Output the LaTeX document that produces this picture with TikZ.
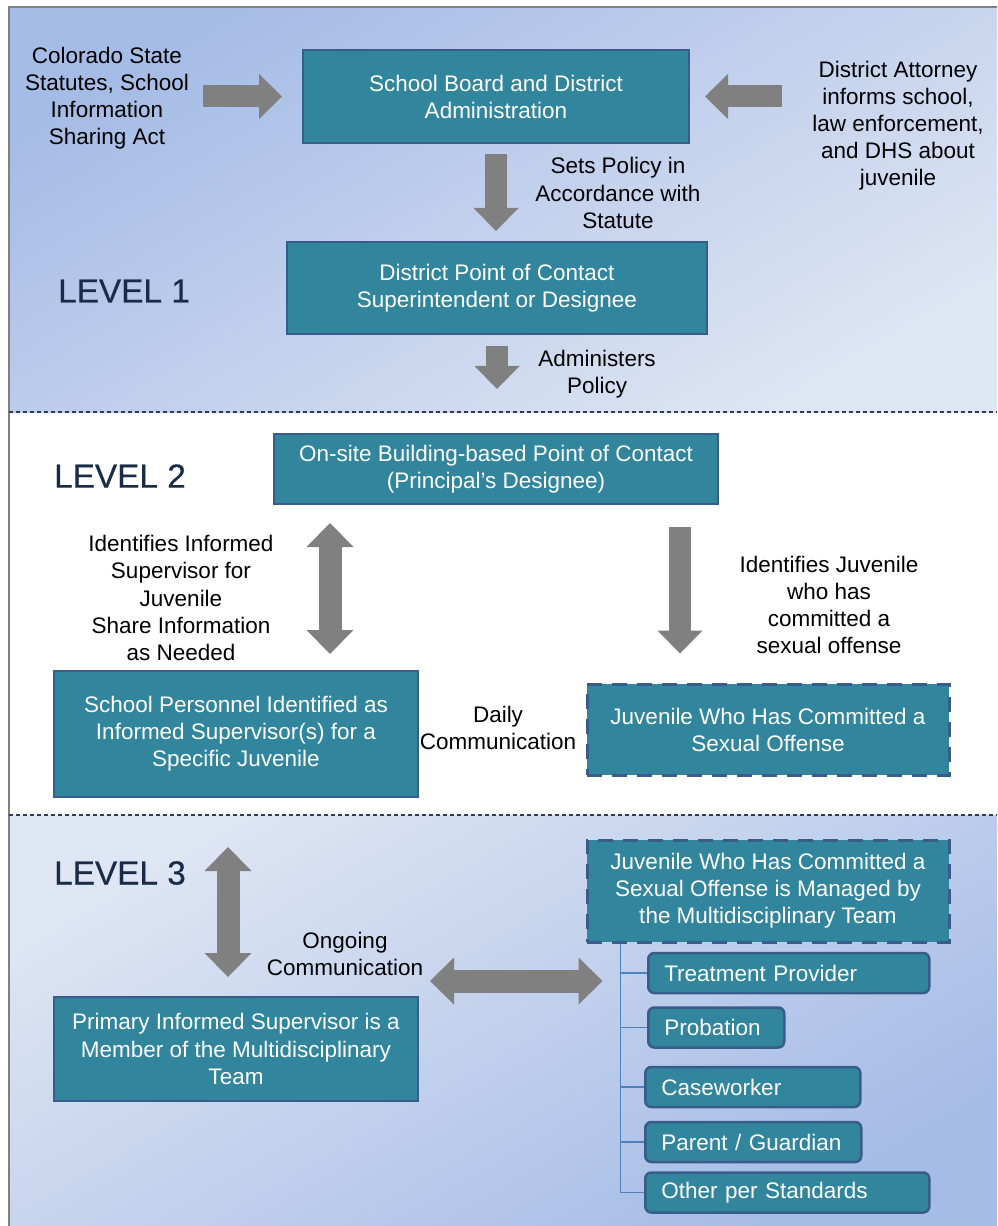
\documentclass[tikz,border=0pt]{standalone}
\usepackage{fontspec}
\setmainfont{Liberation Sans}
\newfontfamily\levelfont[FakeBold=0.4]{Liberation Sans}
\usepackage{tikz}
\usetikzlibrary{arrows.meta}

\definecolor{tealbox}{HTML}{31859C}
\definecolor{boxline}{HTML}{385D8A}
\definecolor{arrowgray}{HTML}{808080}
\definecolor{treeblue}{HTML}{4F81BD}
\definecolor{levelblue}{HTML}{182C47}
\definecolor{bgdark}{HTML}{A5BCE6}
\definecolor{bglight}{HTML}{DEE5F3}
\definecolor{sepline}{HTML}{2F3B52}

\begin{document}
\begin{tikzpicture}[x=0.2mm, y=-0.2mm,
		txt/.style={align=center, inner sep=0pt, font=\fontsize{12.8}{15.4}\selectfont},
		level/.style={inner sep=0pt, text=levelblue, font=\levelfont\fontsize{19}{22}\selectfont},
		box/.style={txt, draw=boxline, fill=tealbox, text=white, line width=0.4mm},
		dbox/.style={box, line width=0.6mm, dash pattern=on 3mm off 2mm},
		sub/.style={txt, draw=boxline, fill=tealbox, text=white, line width=0.5mm, rounded corners=1.2mm, anchor=west, align=left, inner xsep=3.2mm, minimum height=8mm},
		fat/.style={draw=arrowgray, line width=4.4mm, -{Triangle[width=9mm, length=4.6mm, line width=0pt]}},
		dblfat/.style={draw=arrowgray, line width=4.6mm, {Triangle[width=9.4mm, length=4.8mm, line width=0pt]}-{Triangle[width=9.4mm, length=4.8mm, line width=0pt]}},
		sep/.style={draw=sepline, line width=0.25mm, dash pattern=on 0.8mm off 0.6mm},
		branch/.style={draw=treeblue, line width=0.3mm}]
	\useasboundingbox (0,0) rectangle (997,1226);
	\shade[top color=bgdark, bottom color=bglight, shading angle=30] (9,7) rectangle (997,412);
	\shade[top color=bglight, bottom color=bgdark, shading angle=30] (9,815) rectangle (997,1226);
	\draw[gray, line width=0.4mm] (9,1226) -- (9,7) -- (997,7);
	\draw[sep] (9,412) -- (997,412);
	\draw[sep] (9,815) -- (997,815);

	\node[box, minimum width=77.2mm, minimum height=18.6mm] (sb) at (496,96.5) {School Board and District\\Administration};
	\node[box, minimum width=84mm, minimum height=18.4mm] (dpc) at (497,288) {District Point of Contact\\Superintendent or Designee};
	\node[box, minimum width=88.8mm, minimum height=14mm] (onsite) at (496,469) {On-site Building-based Point of Contact\\(Principal’s Designee)};
	\node[box, minimum width=72.8mm, minimum height=25.2mm] (pers) at (236,734) {School Personnel Identified as\\Informed Supervisor(s) for a\\Specific Juvenile};
	\node[dbox, minimum width=72.4mm, minimum height=18.2mm] (juv) at (768,729.5) {Juvenile Who Has Committed a\\Sexual Offense};
	\node[dbox, minimum width=72.4mm, minimum height=20.4mm] (mdt) at (768,891) {Juvenile Who Has Committed a\\Sexual Offense is Managed by\\the Multidisciplinary Team};
	\node[box, minimum width=72.8mm, minimum height=20.8mm] (pis) at (236,1049) {Primary Informed Supervisor is a\\Member of the Multidisciplinary\\Team};

	\node[sub, text width=49.8mm] (tp) at (647,973) {Treatment Provider};
	\node[sub, text width=20.8mm] (prob) at (647,1027.5) {Probation};
	\node[sub, text width=36.6mm] (cw) at (644,1087) {Caseworker};
	\node[sub, text width=36.8mm] (pg) at (644,1142) {Parent / Guardian};
	\node[sub, text width=50.4mm] (other) at (644,1192.5) {Other per Standards};
	\coordinate (trunk) at ([xshift=7mm]mdt.south west);
	\draw[branch] (trunk) |- (tp.west);
	\draw[branch] (trunk) |- (prob.west);
	\draw[branch] (trunk) |- (cw.west);
	\draw[branch] (trunk) |- (pg.west);
	\draw[branch] (trunk) |- (other.west);

	\node[txt] (csa) at (107,98) {Colorado State\\Statutes, School\\Information\\Sharing Act};
	\node[txt] (da) at (898,126) {District Attorney\\informs school,\\law enforcement,\\and DHS about\\juvenile};
	\node[txt] (setpol) at (618,193) {Sets Policy in\\Accordance with\\Statute};
	\node[txt] (admpol) at (597,374) {Administers\\Policy};
	\node[txt] (idsup) at (181,598) {Identifies Informed\\Supervisor for\\Juvenile\\Share Information\\as Needed};
	\node[txt] (idjuv) at (829,605) {Identifies Juvenile\\who has\\committed a\\sexual offense};
	\node[txt] (daily) at (498,728) {Daily\\Communication};
	\node[txt] (ongoing) at (345,954) {Ongoing\\Communication};
	\node[level] (lvl1) at (124,291) {LEVEL 1};
	\node[level] (lvl2) at (120,476) {LEVEL 2};
	\node[level] (lvl3) at (120,873) {LEVEL 3};

	\draw[fat, shorten <=2.8mm, shorten >=4mm] (csa.east |- sb.west) -- (sb.west);
	\draw[fat, shorten <=6mm, shorten >=3mm] (da.west |- sb.east) -- (sb.east);
	\draw[fat, shorten <=2mm, shorten >=2mm] (sb.south) -- (sb.south |- dpc.north);
	\draw[fat, shorten <=2.2mm, shorten >=8.8mm] (dpc.south) -- (dpc.south |- onsite.north);
	\draw[dblfat, shorten <=3.6mm, shorten >=3.2mm] (330,0 |- onsite.south) -- (330,0 |- pers.north);
	\draw[fat, shorten <=4.4mm, shorten >=5.8mm] (680,0 |- onsite.south) -- (680,0 |- juv.north);
	\draw[dblfat, shorten <=9.8mm, shorten >=3.8mm] (228,0 |- pers.south) -- (228,0 |- pis.north);
	\draw[dblfat, shorten <=2.2mm, shorten >=3.6mm] (pis.east |- 0,981) -- (trunk |- 0,981);
\end{tikzpicture}
\end{document}
